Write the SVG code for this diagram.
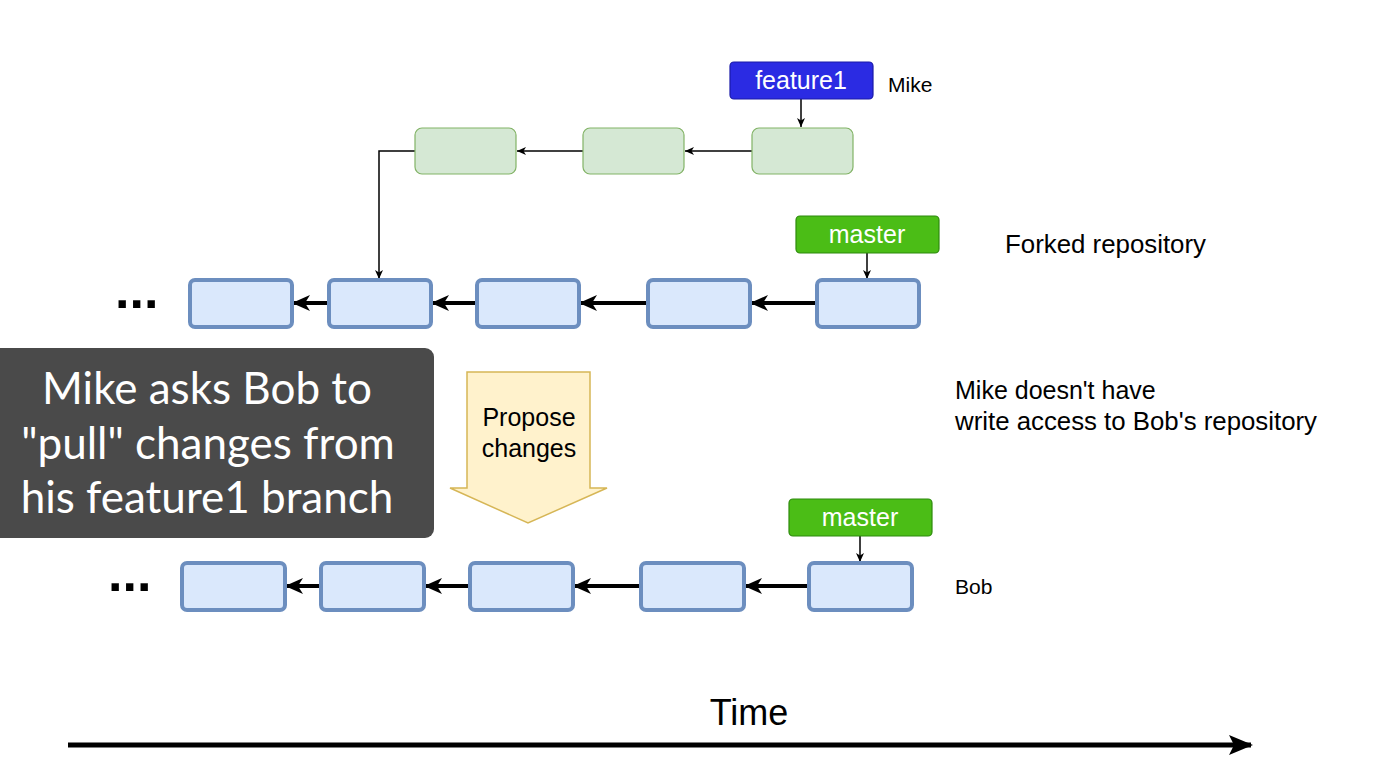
<svg xmlns="http://www.w3.org/2000/svg" width="1373" height="776" viewBox="0 0 1373 776">
<defs>
<style>
.t{font-family:"Liberation Sans",Arial,sans-serif;fill:#000}
.lbl{font-family:"Liberation Sans",Arial,sans-serif;fill:#fff;font-size:25px;text-anchor:middle}
.g{fill:#d5e8d4;stroke:#82b366;stroke-width:1.2}
.b{fill:#dae8fc;stroke:#6c8ebf;stroke-width:4}
.thin{stroke:#000;stroke-width:1.5;fill:none}
.thick{stroke:#000;stroke-width:4;fill:none}
.dots{font-family:"Liberation Sans",Arial,sans-serif;font-weight:bold;font-size:52px;fill:#000}
</style>
<marker id="ah" markerWidth="10" markerHeight="10" refX="9" refY="5" orient="auto" markerUnits="userSpaceOnUse">
<path d="M0,1 L9,5 L0,9 L2.5,5 Z" fill="#000"/>
</marker>
<marker id="ahb" markerWidth="20" markerHeight="20" refX="17" refY="10" orient="auto" markerUnits="userSpaceOnUse">
<path d="M0,2 L18,10 L0,18 L5,10 Z" fill="#000"/>
</marker>
<marker id="aht" markerWidth="26" markerHeight="26" refX="22" refY="13" orient="auto" markerUnits="userSpaceOnUse">
<path d="M0,3 L24,13 L0,23 L5,13 Z" fill="#000"/>
</marker>
</defs>
<rect width="1373" height="776" fill="#fff"/>

<g id="connectors">
<line class="thin" x1="801" y1="99" x2="801" y2="127" marker-end="url(#ah)"/>
<line class="thin" x1="752" y1="151" x2="685" y2="151" marker-end="url(#ah)"/>
<line class="thin" x1="583" y1="151" x2="517" y2="151" marker-end="url(#ah)"/>
<polyline class="thin" points="415,151 379,151 379,279" marker-end="url(#ah)"/>
<line class="thin" x1="867" y1="253" x2="867" y2="279" marker-end="url(#ah)"/>
<line class="thick" x1="817" y1="303" x2="751" y2="303" marker-end="url(#ahb)"/>
<line class="thick" x1="648" y1="303" x2="580" y2="303" marker-end="url(#ahb)"/>
<line class="thick" x1="477" y1="303" x2="432" y2="303" marker-end="url(#ahb)"/>
<line class="thick" x1="329" y1="303" x2="293" y2="303" marker-end="url(#ahb)"/>
<line class="thin" x1="860" y1="536" x2="860" y2="562" marker-end="url(#ah)"/>
<line class="thick" x1="809" y1="586" x2="745" y2="586" marker-end="url(#ahb)"/>
<line class="thick" x1="641" y1="586" x2="574" y2="586" marker-end="url(#ahb)"/>
<line class="thick" x1="470" y1="586" x2="425" y2="586" marker-end="url(#ahb)"/>
<line class="thick" x1="321" y1="586" x2="286" y2="586" marker-end="url(#ahb)"/>
<line x1="68" y1="745" x2="1251" y2="745" stroke="#000" stroke-width="5" marker-end="url(#aht)"/>
</g>

<g id="feature1"><rect x="730" y="62" width="143" height="37" rx="4" fill="#2b2be3" stroke="#1a1aa8" stroke-width="1.2"/><text class="lbl" x="801" y="89">feature1</text></g>
<text id="mike" class="t" x="888" y="92" font-size="21">Mike</text>

<g id="g1"><rect class="g" x="415" y="128" width="101" height="46" rx="7"/></g>
<g id="g2"><rect class="g" x="583" y="128" width="101" height="46" rx="7"/></g>
<g id="g3"><rect class="g" x="752" y="128" width="101" height="46" rx="7"/></g>

<g id="master1"><rect x="796" y="216" width="143" height="37" rx="4" fill="#4bbd16" stroke="#2d8a0c" stroke-width="1.2"/><text class="lbl" x="867" y="243">master</text></g>
<text id="forked" class="t" x="1005" y="253" font-size="25" textLength="201" lengthAdjust="spacingAndGlyphs">Forked repository</text>

<text class="dots" x="115" y="308">...</text>
<g id="b1"><rect class="b" x="190" y="280" width="102" height="47" rx="5"/></g>
<g id="b2"><rect class="b" x="329" y="280" width="102" height="47" rx="5"/></g>
<g id="b3"><rect class="b" x="477" y="280" width="102" height="47" rx="5"/></g>
<g id="b4"><rect class="b" x="648" y="280" width="102" height="47" rx="5"/></g>
<g id="b5"><rect class="b" x="817" y="280" width="102" height="47" rx="5"/></g>

<g id="callout"><rect x="-10" y="348" width="444" height="190" rx="9" fill="#4a4a4a"/>
<g font-family="Lato,'Open Sans',sans-serif" font-size="44" fill="#fff" text-anchor="middle">
<text x="207" y="404">Mike asks Bob to</text>
<text x="208" y="459">"pull" changes from</text>
<text x="207" y="513">his feature1 branch</text>
</g></g>

<g id="propose"><path d="M467,372 L590,372 L590,488 L607,488 L528,523 L450,488 L467,488 Z" fill="#fff2cc" stroke="#d6b656" stroke-width="1.5"/>
<text class="t" x="529" y="426" font-size="25" text-anchor="middle">Propose</text>
<text class="t" x="529" y="457" font-size="25" text-anchor="middle">changes</text></g>

<g id="note"><text class="t" x="955" y="399" font-size="25">Mike doesn't have</text>
<text class="t" x="955" y="430" font-size="25" textLength="362" lengthAdjust="spacingAndGlyphs">write access to Bob's repository</text></g>

<g id="master2"><rect x="789" y="499" width="143" height="37" rx="4" fill="#4bbd16" stroke="#2d8a0c" stroke-width="1.2"/><text class="lbl" x="860" y="526">master</text></g>

<text class="dots" x="108" y="591">...</text>
<g id="c1"><rect class="b" x="182" y="563" width="103" height="47" rx="5"/></g>
<g id="c2"><rect class="b" x="321" y="563" width="103" height="47" rx="5"/></g>
<g id="c3"><rect class="b" x="470" y="563" width="103" height="47" rx="5"/></g>
<g id="c4"><rect class="b" x="641" y="563" width="103" height="47" rx="5"/></g>
<g id="c5"><rect class="b" x="809" y="563" width="103" height="47" rx="5"/></g>
<text id="bob" class="t" x="955" y="594" font-size="21">Bob</text>

<text id="time" class="t" x="749" y="725" font-size="36" text-anchor="middle">Time</text>
</svg>
